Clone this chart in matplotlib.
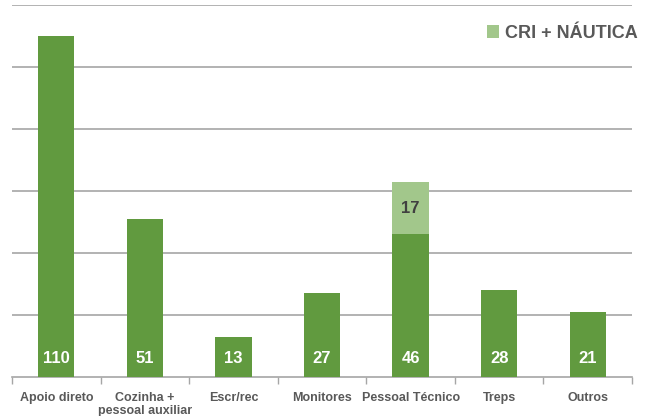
import matplotlib.pyplot as plt
import numpy as np

categories = ['Apoio direto', 'Cozinha +\npessoal auxiliar', 'Escr/rec', 'Monitores',
              'Pessoal Técnico', 'Treps', 'Outros']
base = [110, 51, 13, 27, 46, 28, 21]
cri_nautica = [0, 0, 0, 0, 17, 0, 0]

dark = '#619a3f'
light = '#a2c78b'
grey = '#595959'
font = ['Liberation Sans Narrow', 'Liberation Sans', 'DejaVu Sans']
plt.rcParams['font.family'] = font

fig = plt.figure(figsize=(6.6, 4.16), dpi=100)
ax = fig.add_axes([12/660, 1 - 377/416, 620/660, 372/416])

x = np.arange(len(categories))
ax.bar(x, base, width=0.41, color=dark, zorder=3)
ax.bar(x, cri_nautica, width=0.41, bottom=base, color=light, zorder=3, label='CRI + NÁUTICA')

for i, v in enumerate(base):
    ax.text(i, 3.5, str(v), ha='center', va='bottom', color='white',
            fontsize=12, fontweight='bold')
for i, v in enumerate(cri_nautica):
    if v:
        ax.text(i, base[i] + v / 2, str(v), ha='center', va='center', color='#404040',
                fontsize=12, fontweight='bold')

ax.set_xlim(-0.5, len(categories) - 0.5)
ax.set_ylim(0, 120)
ax.set_yticks(range(20, 121, 20))
ax.yaxis.grid(True, color='#a6a6a6', linewidth=1.2, zorder=0)
ax.tick_params(axis='y', length=0, labelleft=False)

ax.set_xticks(x)
ax.set_xticklabels(categories, fontsize=9, fontweight='bold', color=grey, linespacing=1.05)
ax.set_xticks(np.arange(-0.5, len(categories)), minor=True)
ax.tick_params(axis='x', which='major', length=0, pad=11)
ax.tick_params(axis='x', which='minor', length=5, color='#a6a6a6', width=1)

for s in ['top', 'right', 'left']:
    ax.spines[s].set_visible(False)
ax.spines['bottom'].set_color('#a6a6a6')
ax.spines['bottom'].set_linewidth(1.2)

handles, labels = ax.get_legend_handles_labels()
leg = ax.legend(handles, labels, loc='upper right', bbox_to_anchor=(1.035, 0.99), frameon=False,
                handlelength=0.7, handleheight=0.7, handletextpad=0.3,
                prop={'family': font, 'size': 13, 'weight': 'bold'})
for t in leg.get_texts():
    t.set_color(grey)

fig.savefig('out.png', dpi=100)
